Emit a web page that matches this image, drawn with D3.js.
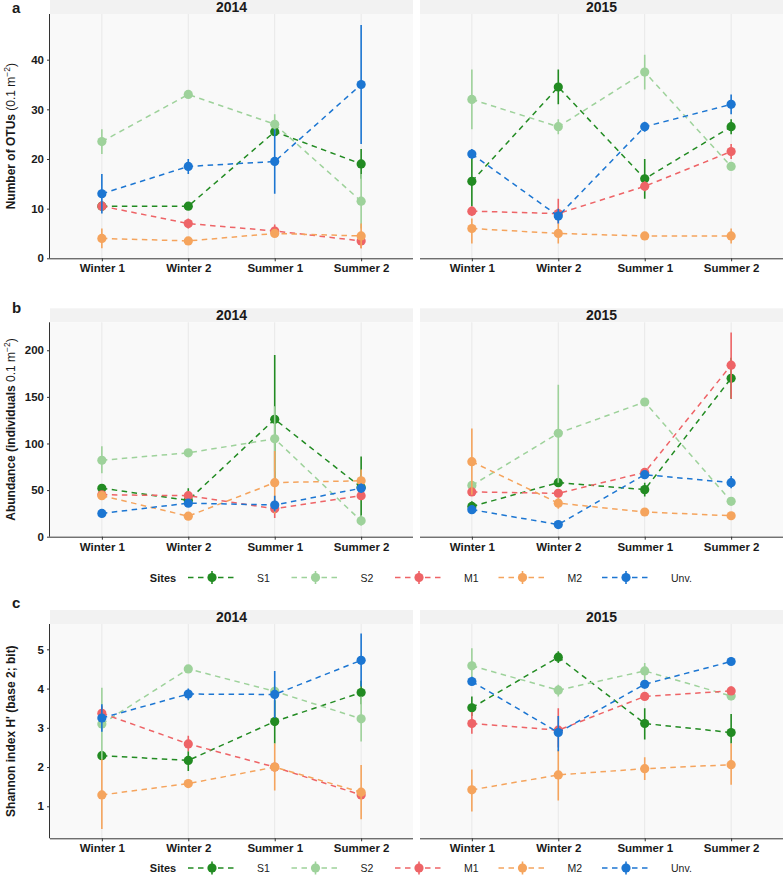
<!DOCTYPE html>
<html>
<head>
<meta charset="utf-8">
<title>Sites by season</title>
<style>
  body { margin: 0; background: #fff; }
  text { font-family: "Liberation Sans", Arial, sans-serif; fill: #1a1a1a; }
  .narrow { font-family: "Liberation Sans Narrow", "Liberation Sans", Arial, sans-serif; }
</style>
</head>
<body>
<div id="my_dataviz"></div>
<script src="https://d3js.org/d3.v7.min.js"></script>
<script>

// categories
var seasons = ["Winter 1", "Winter 2", "Summer 1", "Summer 2"];
var years = ["2014", "2015"];
var sites = ["S1", "S2", "M1", "M2", "Unv."];
var siteColors = ["#228B22", "#9ED29B", "#EE6467", "#F5A45D", "#1C76D2"];

// y ticks
var otuTicks = [0, 10, 20, 30, 40];
var abundTicks = [0, 50, 100, 150, 200];
var shannonTicks = [1, 2, 3, 4, 5];

// a) Number of OTUs, rows = S1, S2, M1, M2, Unv.
var otus2014 = [[10.5, 10.5, 25.5, 19.0], [23.5, 33.0, 27.0, 11.5], [10.5, 7.0, 5.5, 3.5], [4.0, 3.5, 5.0, 4.5], [13.0, 18.5, 19.5, 35.0]];
var otus2014Lo = [[10, 10, 25, 16], [21, 32.5, 25, 6], [9.5, 6, 4.5, 2], [2, 3, 4.5, 2], [9, 17, 13, 23]];
var otus2014Hi = [[11, 11, 26, 22], [26, 33.5, 29, 17], [11.5, 8, 6.8, 5], [6, 4, 5.5, 7], [17, 20, 26, 47]];
var otus2015 = [[15.5, 34.5, 16.0, 26.5], [32.0, 26.5, 37.5, 18.5], [9.5, 9.0, 14.5, 21.5], [6.0, 5.0, 4.5, 4.5], [21.0, 8.5, 26.5, 31.0]];
var otus2015Lo = [[10.5, 31, 12, 25], [26, 25, 34, 18], [8.5, 7, 13.5, 20], [3, 3, 4, 3], [20, 7, 25.5, 29]];
var otus2015Hi = [[21, 38, 20, 28], [38, 28, 41, 19], [10.5, 12, 15.5, 23], [8, 7, 5, 6], [22, 10, 27.5, 33]];

// b) Abundance
var abund2014 = [[52, 39, 126, 53], [82, 90, 105, 17], [45, 44, 30, 44], [44, 22, 58, 60], [25, 36, 34, 52]];
var abund2014Lo = [[49, 36, 57, 21], [68, 88, 70, 12], [42, 40, 20, 40], [41, 19, 25, 49], [22, 33, 27, 47]];
var abund2014Hi = [[55, 52, 195, 86], [97, 92, 140, 23], [48, 48, 40, 48], [47, 25, 92, 72], [28, 39, 44, 57]];
var abund2015 = [[32.5, 58, 50.5, 170], [55, 111, 144.5, 38], [48, 46.5, 69, 184], [80.5, 36, 26.5, 22.5], [29, 13, 66.5, 58]];
var abund2015Lo = [[28, 55, 43, 148], [52, 58, 142, 35], [45, 43, 66, 148], [45, 30, 24, 20], [26, 10, 63, 52]];
var abund2015Hi = [[38, 61, 58, 192], [58, 163, 147, 41], [51, 50, 72, 219], [116, 42, 29, 25], [32, 16, 70, 65]];

// c) Shannon index
var shannon2014 = [[2.29, 2.17, 3.16, 3.90], [3.10, 4.50, 3.93, 3.23], [3.37, 2.59, 2.00, 1.29], [1.29, 1.58, 2.00, 1.36], [3.25, 3.86, 3.85, 4.72]];
var shannon2014Lo = [[2.2, 1.9, 2.6, 3.6], [2.2, 4.4, 3.8, 2.65], [3.2, 2.4, 1.9, 1.2], [0.42, 1.5, 1.4, 0.67], [2.9, 3.7, 3.25, 4.05]];
var shannon2014Hi = [[2.4, 2.4, 3.7, 4.2], [4.02, 4.6, 4.05, 3.8], [3.55, 2.8, 2.1, 1.4], [2.2, 1.67, 2.6, 2.05], [3.6, 4.0, 4.45, 5.4]];
var shannon2015 = [[3.51, 4.80, 3.11, 2.88], [4.58, 3.96, 4.45, 3.81], [3.11, 2.94, 3.80, 3.94], [1.42, 1.80, 1.96, 2.06], [4.18, 2.88, 4.11, 4.69]];
var shannon2015Lo = [[3.3, 4.65, 2.7, 2.6], [4.15, 3.8, 4.2, 3.7], [2.85, 2.5, 3.7, 3.85], [0.87, 1.15, 1.67, 1.55], [4.1, 2.4, 4.0, 4.6]];
var shannon2015Hi = [[3.8, 4.95, 3.5, 3.35], [5.03, 4.1, 4.65, 3.9], [3.4, 3.5, 3.9, 4.05], [1.94, 2.45, 2.25, 2.6], [4.3, 3.3, 4.2, 4.8]];

var W = 784, H = 887;
var svg = d3.select("#my_dataviz").append("svg")
  .attr("width", W).attr("height", H);

var panelX = [[50, 413], [420, 783]];

// draw one row of two facets
function drawRow(opt) {
  var y = d3.scaleLinear().domain(opt.domain).range([opt.bottom, opt.top]);

  svg.append("text").attr("x", 12).attr("y", opt.letterY)
    .style("font-size", "15px").style("font-weight", "bold").text(opt.letter);

  years.forEach(function(year, yi) {
    var x0 = panelX[yi][0], x1 = panelX[yi][1];
    var x = d3.scalePoint().domain(seasons).range([x0, x1]).padding(0.6);
    var g = svg.append("g");

    // strip
    g.append("rect").attr("x", x0).attr("y", opt.top - 14).attr("width", x1 - x0).attr("height", 14)
      .attr("fill", "#F2F2F2");
    g.append("text").attr("x", (x0 + x1) / 2).attr("y", opt.top - 2.5)
      .attr("text-anchor", "middle").style("font-size", "14px").style("font-weight", "bold").text(year);

    // panel background + grid
    g.append("rect").attr("x", x0).attr("y", opt.top).attr("width", x1 - x0).attr("height", opt.bottom - opt.top)
      .attr("fill", "#F9F9F9");
    g.selectAll(".grid").data(seasons).enter().append("line")
      .attr("x1", function(d) { return x(d); }).attr("x2", function(d) { return x(d); })
      .attr("y1", opt.top).attr("y2", opt.bottom)
      .attr("stroke", "#E8E8E8").attr("stroke-width", 1);

    // x axis
    var xa = g.append("g").attr("transform", "translate(0," + opt.bottom + ")")
      .call(d3.axisBottom(x).tickSize(3).tickPadding(3));
    xa.select(".domain").attr("d", "M" + x0 + ",0.5H" + x1).attr("stroke", "#333");
    xa.selectAll(".tick line").attr("stroke", "#333");
    xa.selectAll("text").style("font-size", "11.5px").style("font-weight", "bold")
      .style("font-family", "'Liberation Sans', Arial, sans-serif").attr("fill", "#1a1a1a");

    // y axis only on the left facet
    if (yi === 0) {
      var ya = g.append("g").attr("transform", "translate(" + x0 + ",0)")
        .call(d3.axisLeft(y).tickValues(opt.ticks).tickFormat(d3.format("d")).tickSize(3).tickPadding(3));
      ya.select(".domain").attr("d", "M-0.5," + opt.top + "V" + opt.bottom).attr("stroke", "#333");
      ya.selectAll(".tick line").attr("stroke", "#333");
      ya.selectAll("text").style("font-size", "11.5px").style("font-weight", "bold")
        .style("font-family", "'Liberation Sans', Arial, sans-serif").attr("fill", "#1a1a1a");
    }

    var means = opt.means[yi], lo = opt.lo[yi], hi = opt.hi[yi];
    var clip = "clip-" + opt.letter + yi;
    svg.append("clipPath").attr("id", clip).append("rect")
      .attr("x", x0).attr("y", opt.top).attr("width", x1 - x0).attr("height", opt.bottom - opt.top);
    var marks = g.append("g").attr("clip-path", "url(#" + clip + ")");

    sites.forEach(function(s, si) {
      var col = siteColors[si];
      // error bars
      marks.selectAll(".eb" + si).data(seasons).enter().append("line")
        .attr("x1", function(d) { return x(d); }).attr("x2", function(d) { return x(d); })
        .attr("y1", function(d, i) { return y(lo[si][i]); })
        .attr("y2", function(d, i) { return y(hi[si][i]); })
        .attr("stroke", col).attr("stroke-width", 1.6);
      // dashed line
      marks.append("path").datum(means[si])
        .attr("d", d3.line().x(function(d, i) { return x(seasons[i]); }).y(function(d) { return y(d); }))
        .attr("fill", "none").attr("stroke", col).attr("stroke-width", 1.5)
        .attr("stroke-dasharray", "5.5,4.5");
      // points
      marks.selectAll(".pt" + si).data(means[si]).enter().append("circle")
        .attr("cx", function(d, i) { return x(seasons[i]); })
        .attr("cy", function(d) { return y(d); })
        .attr("r", 4.6).attr("fill", col);
    });
  });

  // y title
  var cy = (opt.top + opt.bottom) / 2;
  var t = svg.append("text").attr("transform", "translate(15," + cy + ") rotate(-90)")
    .attr("text-anchor", "middle").style("font-size", "12px");
  opt.title(t);
}

function superTitle(t, boldPart, plainPart) {
  t.append("tspan").style("font-weight", "bold").text(boldPart);
  t.append("tspan").text(plainPart);
  t.append("tspan").attr("dy", -5).style("font-size", "8.5px").text("\u22122");
  t.append("tspan").attr("dy", 5).text(")");
}

drawRow({
  letter: "a", letterY: 13, top: 14, bottom: 258.3, domain: [0, 49.2], ticks: otuTicks,
  means: [otus2014, otus2015], lo: [otus2014Lo, otus2015Lo], hi: [otus2014Hi, otus2015Hi],
  title: function(t) { superTitle(t, "Number of OTUs ", "(0.1 m"); }
});

drawRow({
  letter: "b", letterY: 313, top: 322.3, bottom: 536.7, domain: [0, 230], ticks: abundTicks,
  means: [abund2014, abund2015], lo: [abund2014Lo, abund2015Lo], hi: [abund2014Hi, abund2015Hi],
  title: function(t) { superTitle(t, "Abundance (individuals ", "0.1 m"); }
});

drawRow({
  letter: "c", letterY: 608, top: 624, bottom: 838.3, domain: [0.185, 5.645], ticks: shannonTicks,
  means: [shannon2014, shannon2015], lo: [shannon2014Lo, shannon2015Lo], hi: [shannon2014Hi, shannon2015Hi],
  title: function(t) { t.style("font-weight", "bold").text("Shannon index H' (base 2; bit)"); }
});

// legends
function drawLegend(cy) {
  var g = svg.append("g");
  g.append("text").attr("class", "narrow").attr("x", 163).attr("y", cy + 4)
    .attr("text-anchor", "middle").style("font-size", "11px").style("font-weight", "bold").text("Sites");
  var keyX = d3.scaleLinear().domain([0, sites.length - 1]).range([212, 626]);
  sites.forEach(function(s, i) {
    var kx = keyX(i);
    g.append("line").attr("x1", kx - 24).attr("x2", kx + 24).attr("y1", cy).attr("y2", cy)
      .attr("stroke", siteColors[i]).attr("stroke-width", 1.5).attr("stroke-dasharray", "5.5,4.5");
    g.append("line").attr("x1", kx).attr("x2", kx).attr("y1", cy - 6.5).attr("y2", cy + 6.5)
      .attr("stroke", siteColors[i]).attr("stroke-width", 1.6);
    g.append("circle").attr("cx", kx).attr("cy", cy).attr("r", 4.6).attr("fill", siteColors[i]);
    g.append("text").attr("class", "narrow").attr("x", kx + 45).attr("y", cy + 4)
      .attr("text-anchor", "start").style("font-size", "10.5px").text(s);
  });
}
drawLegend(577.5);
drawLegend(868);

</script>
</body>
</html>
